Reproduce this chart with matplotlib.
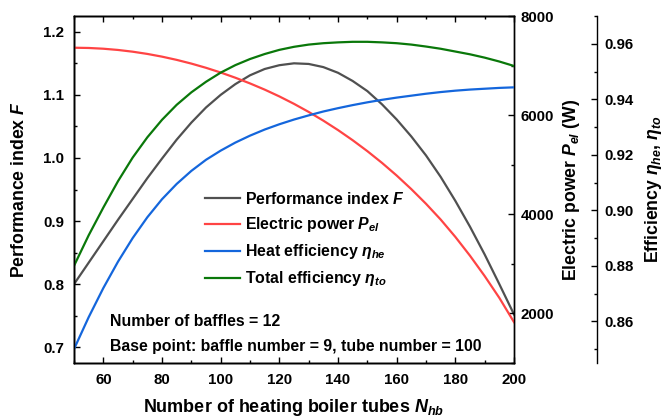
import numpy as np
import matplotlib
matplotlib.use('Agg')
import matplotlib.pyplot as plt
from matplotlib.ticker import MultipleLocator

plt.rcParams['font.family'] = ['Liberation Sans', 'DejaVu Sans']
plt.rcParams['font.weight'] = 'bold'
plt.rcParams['mathtext.fontset'] = 'custom'
plt.rcParams['mathtext.rm'] = 'Liberation Sans:bold'
plt.rcParams['mathtext.it'] = 'Liberation Sans:bold:italic'
plt.rcParams['mathtext.bf'] = 'Liberation Sans:bold'

# number of heating boiler tubes
n_tubes = [50, 55, 60, 65, 70, 75, 80, 85, 90, 95, 100, 105, 110, 115, 120, 125,
           130, 135, 140, 145, 150, 155, 160, 165, 170, 175, 180, 185, 190, 195, 200]

# performance index F (left axis)
perf_index = [0.800, 0.834, 0.868, 0.902, 0.935, 0.968, 0.999, 1.029, 1.056, 1.080,
              1.100, 1.117, 1.131, 1.141, 1.147, 1.150, 1.149, 1.144, 1.135, 1.122,
              1.106, 1.085, 1.061, 1.034, 1.004, 0.970, 0.932, 0.891, 0.847, 0.800, 0.752]

# electric power P_el in W (first right axis)
elec_power = [7360, 7355, 7340, 7315, 7280, 7235, 7180, 7115, 7040, 6955,
              6860, 6755, 6640, 6515, 6378, 6228, 6065, 5889, 5699, 5494,
              5274, 5037, 4782, 4507, 4212, 3894, 3544, 3164, 2754, 2314, 1824]

# heat / total efficiency (second right axis)
heat_eff = [0.8500, 0.8615, 0.8720, 0.8815, 0.8900, 0.8975, 0.9040, 0.9095, 0.9142, 0.9182,
            0.9215, 0.9244, 0.9269, 0.9291, 0.9310, 0.9327, 0.9342, 0.9356, 0.9368, 0.9379,
            0.9389, 0.9398, 0.9406, 0.9413, 0.9420, 0.9426, 0.9431, 0.9435, 0.9438, 0.9441, 0.9443]
total_eff = [0.8800, 0.8910, 0.9010, 0.9105, 0.9190, 0.9263, 0.9326, 0.9380, 0.9425, 0.9463,
             0.9496, 0.9523, 0.9545, 0.9563, 0.9578, 0.9589, 0.9597, 0.9602, 0.9605, 0.9607,
             0.9607, 0.9605, 0.9602, 0.9597, 0.9590, 0.9582, 0.9572, 0.9562, 0.9550, 0.9536, 0.9520]

c_perf = '#505050'
c_power = '#ff4444'
c_heat = '#1466dc'
c_total = '#0a780a'

W, H = 662, 420
fig = plt.figure(figsize=(W/100, H/100), dpi=100)

# axes box in pixels
x0, x1, y0, y1 = 74, 514, 16, 363
ax = fig.add_axes([x0/W, 1 - y1/H, (x1 - x0)/W, (y1 - y0)/H])
ax2 = ax.twinx()
ax3 = ax.twinx()
ax3.spines['right'].set_position(('axes', (597 - x0)/(x1 - x0)))

lw = 1.6
l1, = ax.plot(n_tubes, perf_index, color=c_perf, lw=lw, label=r'Performance index $F$')
l2, = ax2.plot(n_tubes, elec_power, color=c_power, lw=lw, label=r'Electric power $P_{el}$')
l3, = ax3.plot(n_tubes, heat_eff, color=c_heat, lw=lw, label=r'Heat efficiency $\eta_{he}$')
l4, = ax3.plot(n_tubes, total_eff, color=c_total, lw=lw, label=r'Total efficiency $\eta_{to}$')

ax.set_xlim(50, 200)
ax.set_ylim(0.675, 1.225)
ax2.set_ylim(1000, 8000)
ax3.set_ylim(0.845, 0.970)

ax.set_xticks(range(60, 201, 20))
ax.xaxis.set_minor_locator(MultipleLocator(10))
ax.yaxis.set_major_locator(MultipleLocator(0.1))
ax.yaxis.set_minor_locator(MultipleLocator(0.05))
ax2.yaxis.set_major_locator(MultipleLocator(2000))
ax2.yaxis.set_minor_locator(MultipleLocator(1000))
ax3.set_yticks([0.86, 0.88, 0.90, 0.92, 0.94, 0.96])
ax3.yaxis.set_minor_locator(MultipleLocator(0.01))

for a in (ax, ax2, ax3):
    for s in a.spines.values():
        s.set_linewidth(1.0)
ax.tick_params(which='both', direction='in', top=True, labelsize=10.8, pad=7)
ax2.tick_params(which='both', direction='in', labelsize=10.8, pad=4.8)
ax3.tick_params(which='both', direction='in', labelsize=10.8, pad=5.2)
for a in (ax, ax2, ax3):
    a.tick_params(which='major', length=4.5, width=1.0)
    a.tick_params(which='minor', length=2.5, width=1.0)
ax.set_yticklabels(['%.1f' % v for v in ax.get_yticks()])
ax3.set_yticklabels(['%.2f' % v for v in ax3.get_yticks()])

ax.set_xlabel(r'Number of heating boiler tubes $N_{hb}$', fontsize=13, fontweight='bold')
ax.xaxis.label.set_va('center')
ax.xaxis.set_label_coords(0.5, -(408 - y1)/(y1 - y0))

ax.set_ylabel(r'Performance index $F$', fontsize=12.7, fontweight='bold')
ax.yaxis.label.set_va('center')
ax.yaxis.set_label_coords((20 - x0)/(x1 - x0), 0.5)

ax2.set_ylabel(r'Electric power $P_{el}$ (W)', fontsize=12.7, fontweight='bold')
ax2.yaxis.label.set_va('center')
ax2.yaxis.set_label_coords((572 - x0)/(x1 - x0), 0.5)

ax3.set_ylabel(r'Efficiency $\eta_{he}$, $\eta_{to}$', fontsize=12.7, fontweight='bold')
ax3.yaxis.label.set_va('center')
ax3.yaxis.set_label_coords((653 - x0)/(x1 - x0), 0.5)

leg = ax3.legend(handles=[l1, l2, l3, l4], loc='upper left', frameon=False,
                 bbox_to_anchor=((205 - x0)/(x1 - x0), 1 - (191 - y0)/(y1 - y0)),
                 fontsize=11.4, handlelength=2.2, handletextpad=0.35,
                 labelspacing=0.51, borderpad=0, borderaxespad=0)

ax.text((110 - x0)/(x1 - x0), 1 - (321.7 - y0)/(y1 - y0), 'Number of baffles = 12',
        transform=ax.transAxes, fontsize=11.4, fontweight='bold', va='center', ha='left')
ax.text((110 - x0)/(x1 - x0), 1 - (346 - y0)/(y1 - y0),
        'Base point: baffle number = 9, tube number = 100',
        transform=ax.transAxes, fontsize=11.4, fontweight='bold', va='center', ha='left')

fig.savefig('out.png', dpi=100)
